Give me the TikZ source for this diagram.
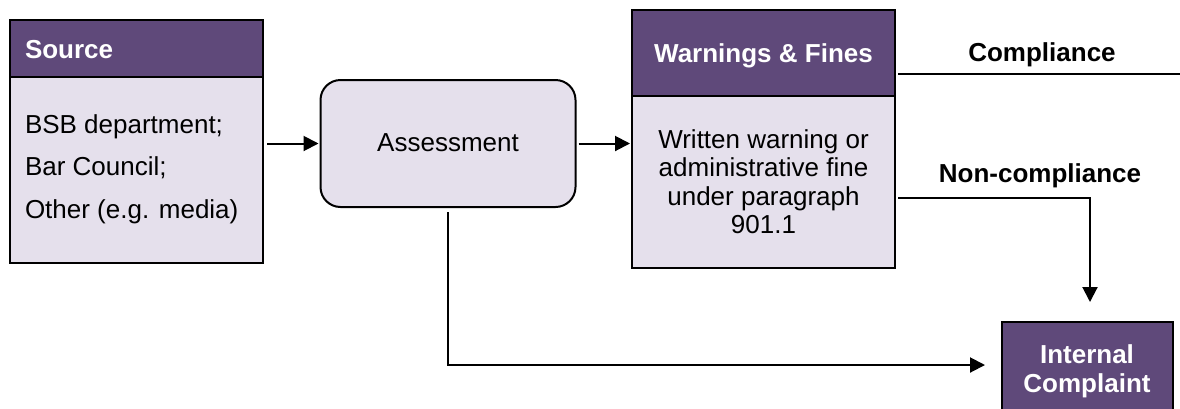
\documentclass[tikz,border=0pt]{standalone}
\usepackage{fontspec}
\setmainfont{Liberation Sans}
\usetikzlibrary{arrows.meta}
\definecolor{hdr}{HTML}{5F497A}
\definecolor{lite}{HTML}{E5E0EC}
\begin{document}
\begin{tikzpicture}[x=1pt,y=-1pt,line width=2pt,
  font=\fontsize{26}{30}\selectfont,
  box/.style={draw=black,line width=2pt,fill=lite,inner sep=0pt,outer sep=0pt,anchor=north west},
  hdrbox/.style={draw=black,line width=2pt,fill=hdr,inner sep=0pt,outer sep=0pt,anchor=north west},
  htext/.style={text=white,inner sep=0pt,font=\bfseries\fontsize{26}{30}\selectfont},
  btext/.style={inner sep=0pt,font=\bfseries\fontsize{26}{30}\selectfont},
  lline/.style={anchor=base west,inner sep=0pt},
  cline/.style={anchor=base,inner sep=0pt},
  arr/.style={-{Triangle[length=15pt,width=15pt]},line width=2pt}]
\useasboundingbox (0,0) rectangle (1180,408);
% Source
\node[box,minimum width=253pt,minimum height=243pt] (src) at (10,20) {};
\node[hdrbox,minimum width=253pt,minimum height=57pt] (srch) at (10,20) {};
\node[htext,anchor=base west] (srct) at (24,58) {Source};
\node[lline] (s1) at (24,133) {BSB department;};
\node[lline] (s2) at (24,175.5) {Bar Council;};
\node[lline] (s3) at (24,218) {Other (e.g. media)};
% Assessment
\node[draw=black,fill=lite,rounded corners=20pt,minimum width=255pt,minimum height=127pt,inner sep=0pt,outer sep=0pt] (ass) at (448,143.5) {};
\node[cline] (asst) at (448,151.5) {Assessment};
% Warnings & Fines
\node[box,minimum width=263pt,minimum height=258pt] (wf) at (632,10) {};
\node[hdrbox,minimum width=263pt,minimum height=86pt] (wfh) at (632,10) {};
\node[htext,anchor=base] (wft) at (763.5,62) {Warnings \& Fines};
\node[cline] (w1) at (763.5,148) {Written warning or};
\node[cline] (w2) at (763.5,176.5) {administrative fine};
\node[cline] (w3) at (763.5,205) {under paragraph};
\node[cline] (w4) at (763.5,233.5) {901.1};
% Labels
\node[btext,anchor=base] (comp) at (1042,61.5) {Compliance};
\node[btext,anchor=base] (nonc) at (1040,182) {Non-compliance};
% Internal Complaint
\node[hdrbox,minimum width=171pt,minimum height=110pt] (ic) at (1002,322) {};
\node[htext,anchor=base] (ic1) at (1087,363) {Internal};
\node[htext,anchor=base] (ic2) at (1087,392) {Complaint};
% connectors
\coordinate (compend) at (1180,74);
\coordinate (nc) at (1090,198);
\coordinate (icin) at (ic.west |- 0,365);
\draw[arr,shorten <=4pt,shorten >=2pt] (src.east |- ass.west) -- (ass.west);
\draw[arr,shorten <=3pt,shorten >=2pt] (ass.east) -- (ass.east -| wf.west);
\draw[line width=2pt,shorten <=3pt] (wf.east |- compend) -- (compend);
\draw[arr,shorten <=3pt,shorten >=20pt] (wf.east |- nc) -- (nc) -- (nc |- ic.north);
\draw[arr,shorten <=5pt,shorten >=17pt] (ass.south) |- (icin);
\end{tikzpicture}
\end{document}
